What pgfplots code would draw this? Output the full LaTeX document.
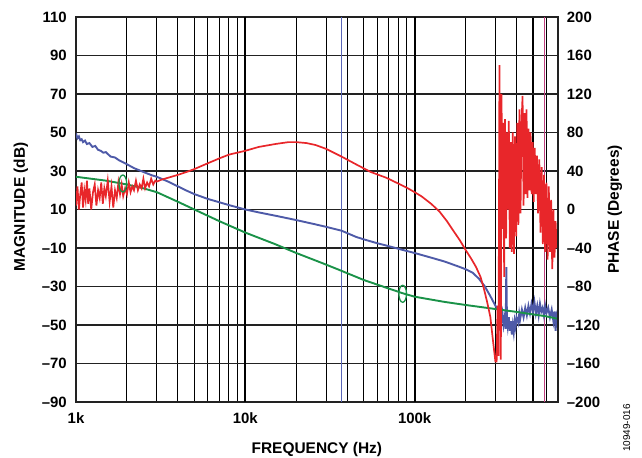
\documentclass[border=0pt]{standalone}
\usepackage{pgfplots}
\pgfplotsset{compat=1.18}
\usepackage{fontspec}
\setmainfont{Liberation Sans}
\definecolor{cred}{HTML}{E8262A}
\definecolor{cblue}{HTML}{4E5AA8}
\definecolor{cgreen}{HTML}{1A9248}
\definecolor{vblue}{HTML}{5A66B8}
\definecolor{vmag}{HTML}{C04080}
\definecolor{gridc}{HTML}{222222}
\begin{document}
\begin{tikzpicture}
\useasboundingbox (-76bp,-56bp) rectangle (566bp,402bp);
\begin{axis}[
  scale only axis, width=481.7bp, height=385bp,
  at={(0,0)}, anchor=south west,
  xmode=log, xmin=1000, xmax=700000,
  ymin=-90, ymax=110,
  log basis x=10,
  xtick={1000,10000,100000}, xticklabels={1k,10k,100k},
  minor xtick={2000,3000,4000,5000,6000,7000,8000,9000,20000,30000,40000,50000,60000,70000,80000,90000,200000,300000,400000,500000,600000},
  ytick={-90,-70,-50,-30,-10,10,30,50,70,90,110},
  yticklabels={\textendash90,\textendash70,\textendash50,\textendash30,\textendash10,10,30,50,70,90,110},
  major tick length=0pt, minor tick length=0pt,
  grid=both,
  major grid style={gridc, line width=1.3bp},
  minor grid style={black, line width=1.05bp},
  axis line style={gridc, line width=2bp},
  tick label style={font=\fontsize{15}{17}\selectfont\bfseries},
  xticklabel style={anchor=base, yshift=-21bp, inner sep=0pt},
  yticklabel style={anchor=east, xshift=-9bp, inner sep=0pt},
  xlabel={FREQUENCY (Hz)},
  xlabel style={at={(axis description cs:0.5,0)}, anchor=base, yshift=-51bp, font=\fontsize{15.5}{17}\selectfont\bfseries, inner sep=0pt},
  ylabel={MAGNITUDE (dB)},
  ylabel style={at={(axis description cs:-0.106,0.507)}, anchor=base, rotate=0, font=\fontsize{15.5}{17}\selectfont\bfseries, inner sep=0pt},
  clip=true,
]
% decade lines thicker
\addplot[black, line width=2.2bp, forget plot] coordinates {(10000,-90) (10000,110)};
\addplot[black, line width=2.2bp, forget plot] coordinates {(100000,-90) (100000,110)};
% vertical markers
\addplot[vblue, line width=1.4bp] coordinates {(37000,-90) (37000,110)};
\addplot[vmag, line width=1.4bp] coordinates {(585000,-90) (585000,110)};
% blue
\addplot[cblue, line width=1.9bp] coordinates {
(1000,49.5) (1020,47) (1040,48) (1060,46) (1080,46.5) (1100,45) (1130,45.8) (1160,44) (1200,44.5) (1250,42.5) (1300,43) (1350,41) (1400,40.5) (1450,39.5) (1500,39.8) (1600,37.5) (1700,37) (1800,35.5) (1900,34.5) (2000,33.5) (2200,31.5) (2500,29.5) (2800,27.8) (3000,27) (3500,24.5) (4000,22) (4500,19.8) (5000,18) (6000,15.5) (7000,13.8) (8000,12.3) (10000,10) (12000,8.5) (15000,6.8) (20000,4.5) (25000,2.6) (30000,1) (37000,-1) (45000,-4.2) (50000,-5.5) (60000,-7.5) (70000,-9) (85000,-11) (100000,-12.6) (125000,-15) (150000,-17) (180000,-19.5) (200000,-21) (220000,-22.8) (240000,-26) (260000,-30) (280000,-35) (300000,-40) (315000,-43)
(320000,-45) (325000,-48) (330000,-44) (335000,-50) (340000,-46) (345000,-52) (348000,-20) (351000,-47) (355000,-51) (360000,-46) (365000,-53) (370000,-48) (375000,-55) (380000,-50) (385000,-54) (390000,-48) (395000,-51) (400000,-46) (410000,-49) (415000,-44) (420000,-47) (430000,-42) (440000,-46) (450000,-41) (460000,-45) (470000,-40) (480000,-44) (490000,-39) (500000,-43) (510000,-38) (520000,-44) (530000,-40) (540000,-45) (550000,-39) (560000,-43) (570000,-41) (580000,-45) (590000,-40) (600000,-44) (615000,-41) (630000,-46) (645000,-42) (660000,-48) (670000,-43) (680000,-53) (690000,-45) (700000,-47)
};
% green
\addplot[cgreen, line width=1.9bp] coordinates {
(1000,27) (1500,25) (2000,23) (2500,21) (3000,19) (4000,14) (5000,10) (7000,4) (10000,-2) (15000,-8) (20000,-12.6) (28000,-17.6) (35000,-21) (50000,-26.6) (70000,-31) (85000,-33.5) (100000,-35.3) (150000,-38) (200000,-39.6) (300000,-41.7) (400000,-43.2) (500000,-44.5) (600000,-45.5) (700000,-46.8)
};
\addplot[cgreen, only marks, mark=o, mark size=8.5bp, line width=1.3bp, mark options={xscale=0.45}] coordinates {(1890,23.5) (85000,-33.8)};
% red
\addplot[cred, line width=1.7bp] coordinates {
(1000,12) (1020,22) (1040,10) (1060,18) (1080,24) (1100,11) (1120,20) (1140,15) (1160,25) (1180,13) (1200,21) (1230,10) (1260,19) (1290,23) (1320,12) (1350,20) (1380,16) (1410,24) (1440,13) (1470,21) (1500,17) (1540,25) (1580,14) (1620,22) (1660,11) (1700,20) (1740,16) (1780,24) (1820,18) (1860,23) (1900,17) (1950,21) (2000,18) (2050,24) (2100,19) (2150,22) (2200,20) (2260,25) (2320,20) (2380,23) (2440,21) (2500,26) (2560,21) (2630,24) (2700,22) (2780,26) (2860,23) (2940,25) (3000,24.5)
(3200,25.5) (3500,26.5) (4000,28) (4500,29.5) (5000,31) (6000,34) (7000,36.5) (8000,38.5) (10000,40.5) (12000,42.5) (15000,44) (18000,45) (20000,45) (23000,44.5) (26000,43.5) (30000,41.5) (37000,37.5) (45000,33.5) (55000,29.5) (68000,26.5) (80000,23.5) (90000,21.3) (100000,19) (110000,16.8) (125000,13) (140000,9) (155000,4) (168000,-0.6) (185000,-6) (200000,-11) (215000,-15.3) (230000,-19.7) (245000,-25) (256000,-30.8) (268000,-38) (280000,-45.8) (290000,-57.8) (300000,-69)
(305000,-69) (309000,-40) (313000,-66) (317000,85) (320000,-25) (323000,-68) (326000,70) (330000,0) (334000,55) (338000,-25) (342000,57) (347000,-5) (351000,50) (356000,10) (360000,56) (365000,-10) (370000,45) (375000,-12) (380000,50) (386000,-13) (392000,48) (398000,-4) (404000,55) (410000,2) (416000,62) (422000,8) (428000,55) (434000,69) (440000,12) (446000,60) (452000,18) (458000,62) (464000,16) (470000,52) (477000,20) (484000,50) (491000,18) (498000,45) (505000,14) (512000,42) (520000,18) (528000,38) (536000,8) (545000,36) (554000,-2) (563000,32) (572000,-8) (581000,28) (590000,-12) (600000,24) (610000,-16) (620000,22) (630000,-12) (640000,15) (650000,-21) (660000,10) (670000,-15) (680000,4) (690000,-10)
};
\end{axis}
\begin{axis}[
  scale only axis, width=481.7bp, height=385bp,
  at={(0,0)}, anchor=south west,
  xmode=log, xmin=1000, xmax=700000,
  ymin=-200, ymax=200,
  axis y line*=right, axis x line=none,
  ytick={-200,-160,-120,-80,-40,0,40,80,120,160,200},
  yticklabels={\textendash200,\textendash160,\textendash120,\textendash80,\textendash40,0,40,80,120,160,200},
  major tick length=0pt,
  axis line style={gridc, line width=2bp},
  tick label style={font=\fontsize{15}{17}\selectfont\bfseries},
  yticklabel style={anchor=west, xshift=9bp, inner sep=0pt},
  ylabel={PHASE (Degrees)},
  ylabel style={at={(axis description cs:1.127,0.5)}, anchor=base, rotate=0, font=\fontsize{15.5}{17}\selectfont\bfseries, inner sep=0pt},
]
\addplot[draw=none] coordinates {(1000,0)};
\end{axis}
\node[rotate=90, anchor=base, font=\fontsize{10}{11}\selectfont, inner sep=0pt] at (630bp-76bp,-26bp) {10949-016};
\end{tikzpicture}
\end{document}
